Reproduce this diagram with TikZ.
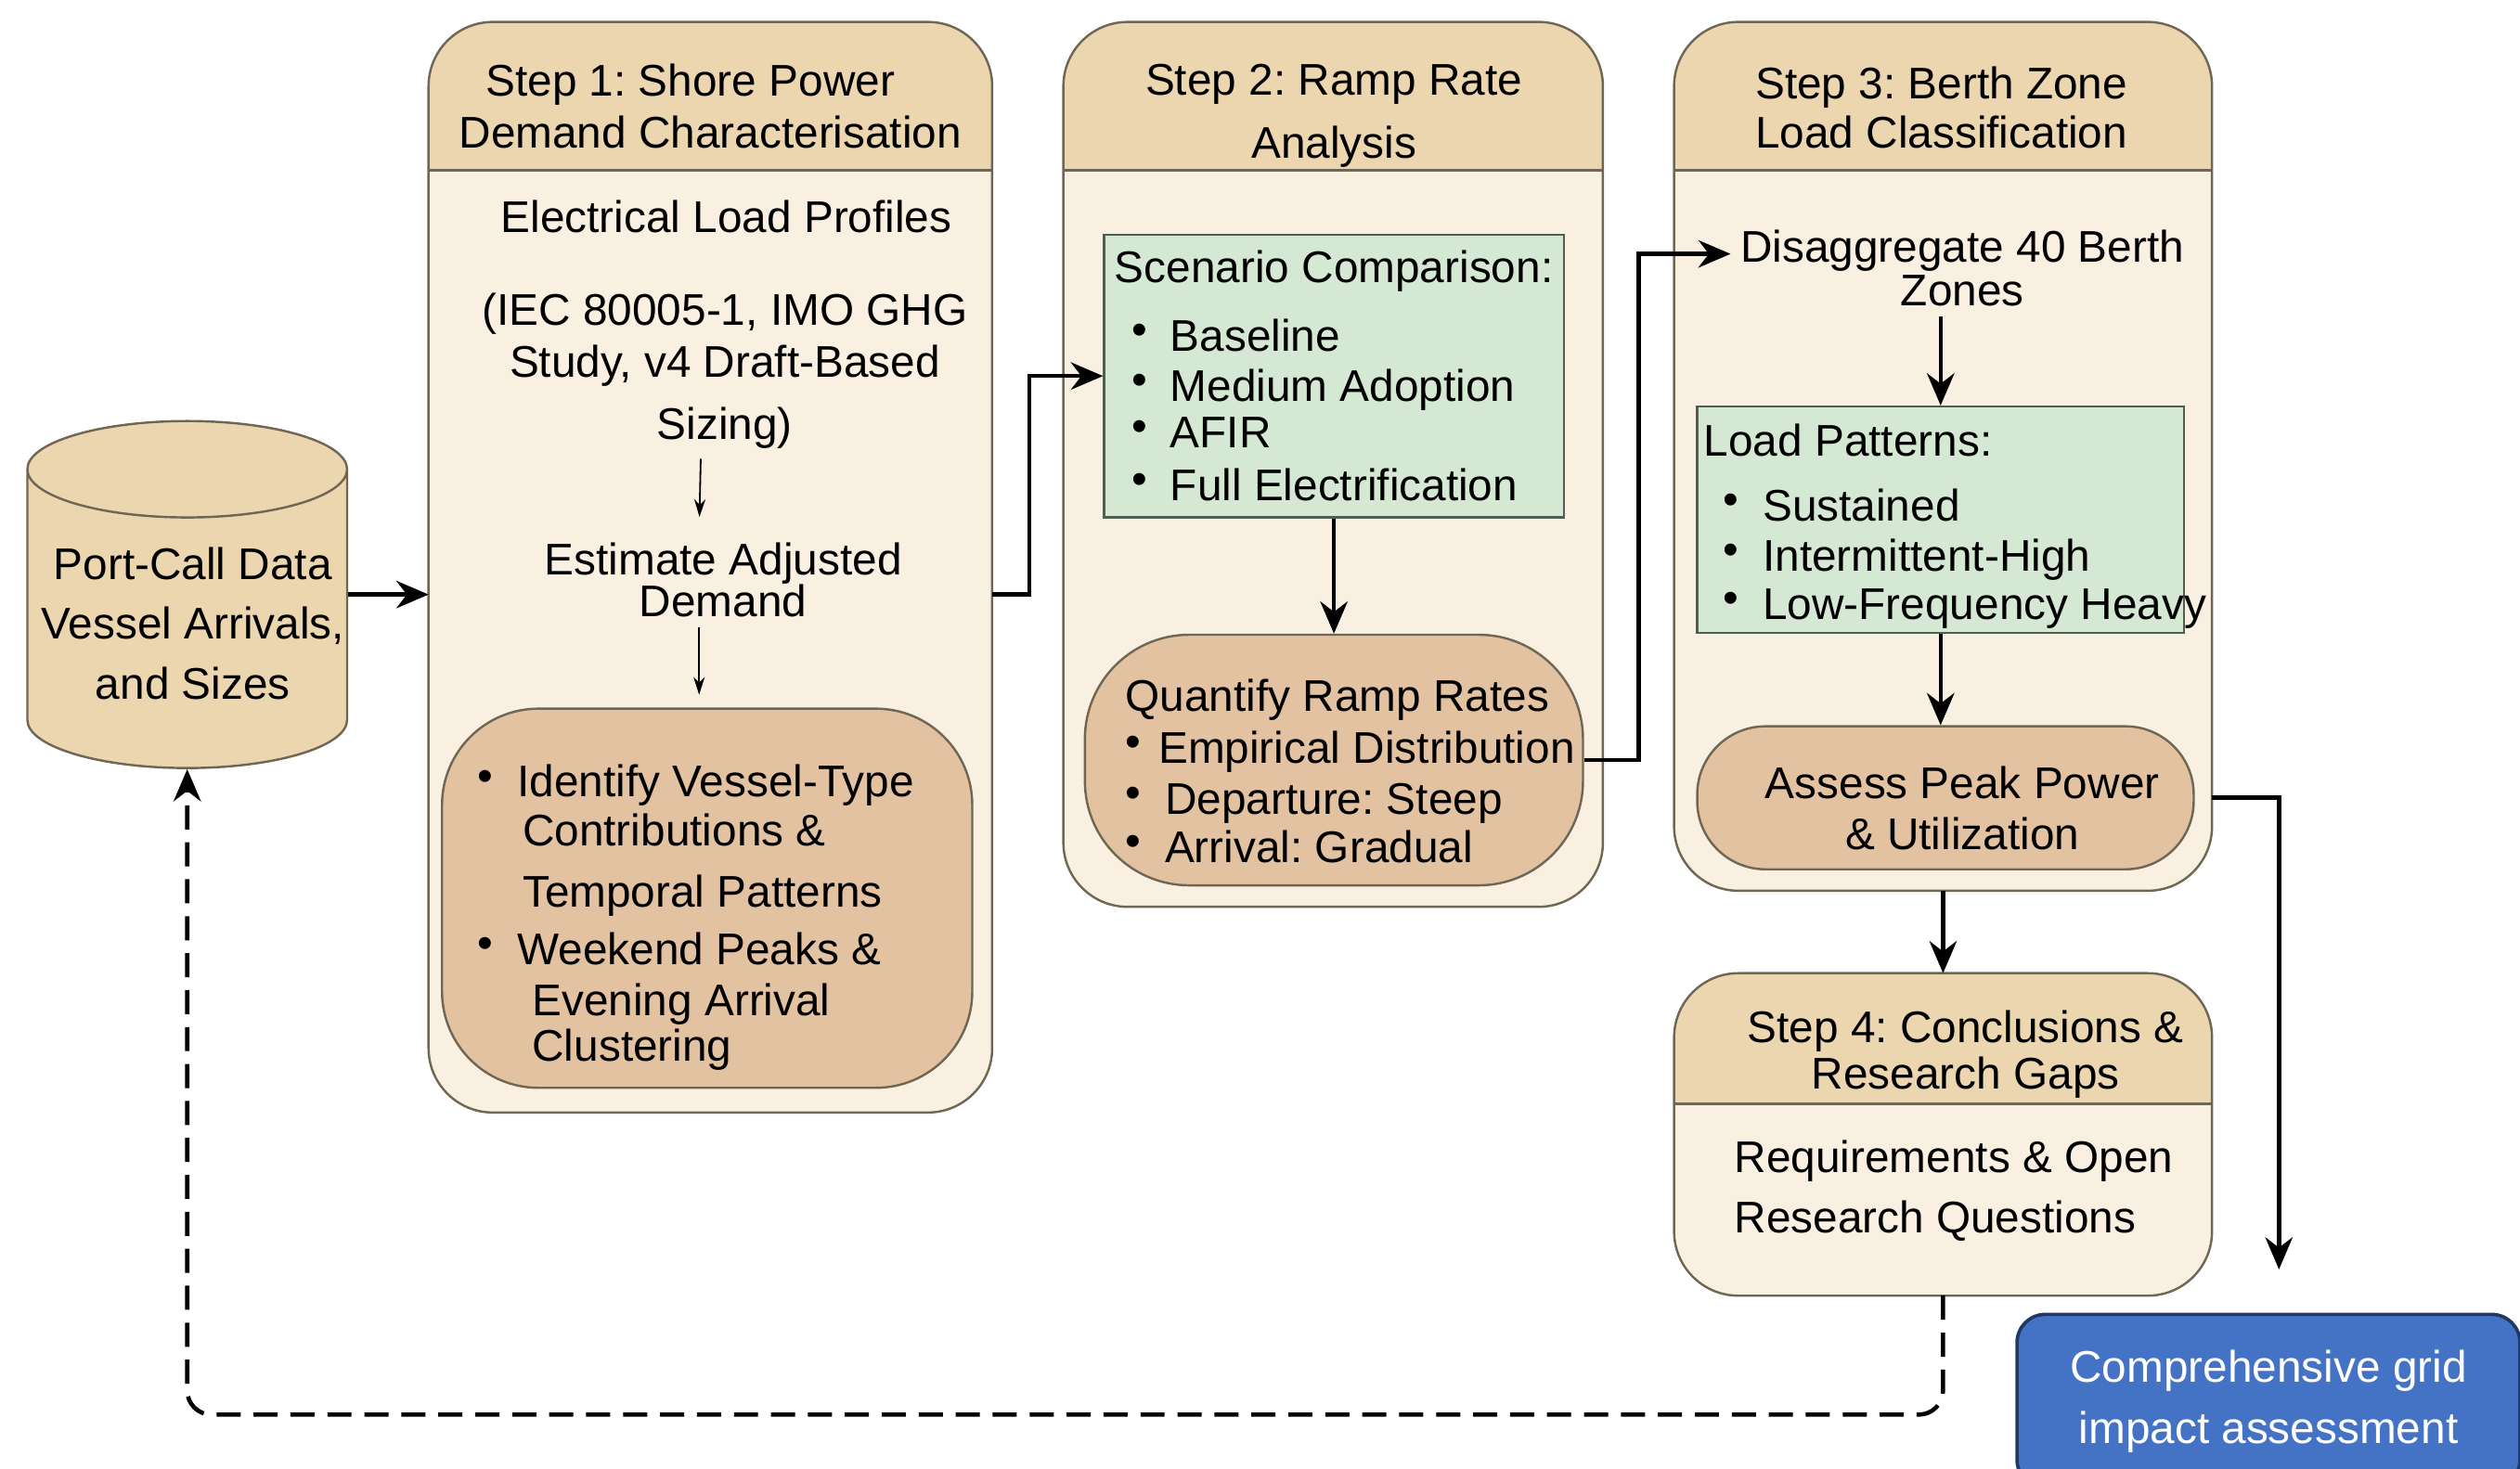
\documentclass[tikz,border=0pt]{standalone}
\usepackage{fontspec}
\setmainfont{Liberation Sans}
\usepackage{tikz}
\usetikzlibrary{arrows.meta, positioning, shapes.geometric, fit}

\definecolor{headtan}{HTML}{ECD6B0}
\definecolor{bodycream}{HTML}{FAF0E1}
\definecolor{boxedge}{HTML}{6F6754}
\definecolor{taskbrown}{HTML}{E3C2A2}
\definecolor{scengreen}{HTML}{D5E8D4}
\definecolor{greenedge}{HTML}{4E5E50}
\definecolor{gridblue}{HTML}{4472C4}
\definecolor{gridedge}{HTML}{203864}

\newcommand{\itemdot}[1][.28cm]{\raisebox{.08cm}{\textbullet}\hspace{#1}}

\begin{document}
\begin{tikzpicture}[x=.02cm, y=-.02cm, font=\fontsize{15.7}{18.2}\selectfont\frenchspacing,
    stepbox/.style={fill=bodycream, rounded corners=.8cm, inner sep=0pt},
    rim/.style={draw=boxedge, line width=.8pt},
    taskbox/.style={rim, fill=taskbrown},
    listbox/.style={draw=greenedge, line width=.8pt, fill=scengreen, align=left},
    dbase/.style={cylinder, shape border rotate=90, aspect=1.2, inner sep=.5cm, rim, fill=headtan},
    flow/.style={-{Stealth[length=.4cm, width=.34cm]}, line width=1.5pt},
    thinflow/.style={-{Stealth[length=.22cm, width=.14cm]}, line width=.6pt},
    back/.style={flow, dash pattern=on .3cm off .16cm, rounded corners=.3cm}]
    \useasboundingbox (0,0) rectangle (1568,914);

    % the four steps
    \node[stepbox, fit={(267,14) (617,692)}] (s1) {};
    \node[stepbox, fit={(662,14) (997,564)}] (s2) {};
    \node[stepbox, fit={(1042,14) (1376,554)}] (s3) {};
    \node[stepbox, fit={(1042,606) (1376,806)}] (s4) {};
    \foreach \b/\h in {s1/106, s2/106, s3/106, s4/687} {
        \begin{scope}
            \clip[rounded corners=.8cm] (\b.south west) rectangle (\b.north east);
            \fill[headtan] (\b.north west) rectangle (\b.east |- 0,\h);
        \end{scope}
        \draw[rim, rounded corners=.8cm] (\b.south west) rectangle (\b.north east);
        \draw[rim] (\b.west |- 0,\h) -- (\b.east |- 0,\h);
    }
    \node[align=center] (h1) at (442,66) {Step 1: Shore Power\hspace*{.5cm}\\Demand Characterisation};
    \node[align=center] (h2) at (830,72) {Step 2: Ramp Rate\\[4pt]Analysis};
    \node[align=center] (h3) at (1208,67) {Step 3: Berth Zone\\[-1pt]Load Classification};
    \node[align=center] (h4) at (1223,656) {Step 4: Conclusions \&\\[-1.7pt]Research Gaps};

    % input data
    \node[dbase, minimum width=3.98cm, minimum height=4.32cm, anchor=shape center] (pcd) at (116.5,370) {};
    \node[align=center] (pcdtext) at (120,388) {Port-Call Data\\[3pt]Vessel Arrivals,\\[3pt]and Sizes};

    % step 1
    \node (elp) at (452,135) {Electrical Load Profiles};
    \node[align=center] (iec) at (451,231) {(IEC 80005-1, IMO GHG\\Study, v4 Draft-Based\\[4pt]Sizing)};
    \node[align=center] (est) at (450,361) {Estimate Adjusted\\[-3.4pt]Demand};
    \node[taskbox, minimum width=6.6cm, minimum height=4.72cm, rounded corners=1.2cm] (vtype) at (440,559) {};
    \node[align=left, anchor=west] (vtypetext) at (291,571) {%
        \itemdot[.3cm]Identify Vessel-Type\\[-1pt]
        \hspace*{.56cm}Contributions \&\\[3.4pt]
        \hspace*{.56cm}Temporal Patterns\\[2.3pt]
        \itemdot[.3cm]Weekend Peaks \&\\
        \hspace*{.68cm}Evening Arrival\\[-2.3pt]
        \hspace*{.68cm}Clustering};

    % step 2
    \node[listbox, minimum width=5.72cm, minimum height=3.52cm] (scen) at (830,234) {%
        Scenario Comparison:\\[6pt]
        \hspace*{.22cm}\itemdot Baseline\\[-.5pt]
        \hspace*{.22cm}\itemdot Medium Adoption\\[-1.7pt]
        \hspace*{.22cm}\itemdot AFIR\\[.5pt]
        \hspace*{.22cm}\itemdot Full Electrification};
    \node[taskbox, minimum width=6.2cm, minimum height=3.12cm, rounded corners=1.3cm] (ramp) at (830,473) {};
    \node[align=left, anchor=west] (ramptext) at (694,480) {%
        Quantify Ramp Rates\\
        \itemdot[.22cm]Empirical Distribution\\
        \itemdot[.3cm]Departure: Steep\\[-1pt]
        \itemdot[.3cm]Arrival: Gradual};

    % step 3
    \node[align=center] (disagg) at (1221,167) {Disaggregate 40 Berth\\[-2.8pt]Zones};
    \node[listbox, minimum width=6.06cm, minimum height=2.82cm] (patt) at (1207.5,323.5) {};
    \node[align=left, anchor=west] (patttext) at (1054,327.5) {%
        Load Patterns:\\[5pt]
        \hspace*{.24cm}\itemdot[.3cm]Sustained\\[-.5pt]
        \hspace*{.24cm}\itemdot[.3cm]Intermittent-High\\[-1pt]
        \hspace*{.24cm}\itemdot[.3cm]Low-Frequency Heavy};
    \node[taskbox, minimum width=6.18cm, minimum height=1.78cm, rounded corners=.85cm] (peak) at (1210.5,496.5) {};
    \node[align=center] (peaktext) at (1221,503) {Assess Peak Power\\\& Utilization};

    % step 4 and result
    \node[align=left, anchor=west] (req) at (1073,741) {Requirements \& Open\\[3.4pt]Research Questions};
    \node[draw=gridedge, line width=1.2pt, fill=gridblue, text=white, rounded corners=.35cm, align=center,
        minimum width=6.26cm, minimum height=2.16cm] (grid) at (1411.5,872) {Comprehensive grid\\[3.4pt]impact assessment};
    \coordinate (gridin) at (1418,790);

    % connectors
    \draw[flow] (pcd.shape center -| pcd.east) -- (pcd.shape center -| s1.west);
    \draw[flow] (pcd.shape center -| s1.east) -- ++(23,0) |- (scen.west);
    \draw[flow] (scen) -- (ramp);
    \draw[flow] (ramp.east) -- ++(34,0) |- ([yshift=.18cm]disagg.west);
    \draw[flow] (patt.north |- disagg.south) -- (patt.north);
    \draw[flow] (patt.south) -- (patt.south |- peak.north);
    \draw[flow] (s3) -- (s4);
    \draw[flow] (s3.east |- peak) -| (gridin);
    \draw[back] (s4.south) -- ++(0,74) -| (pcd.south);
    \draw[thinflow, shorten >=.2cm] ([xshift=-.3cm]iec.south) -- ([xshift=-.3cm]est.north);
    \draw[thinflow, shorten >=.16cm] ([xshift=-.3cm]est.south) -- ([xshift=-.3cm]est.south |- vtype.north);
\end{tikzpicture}
\end{document}
